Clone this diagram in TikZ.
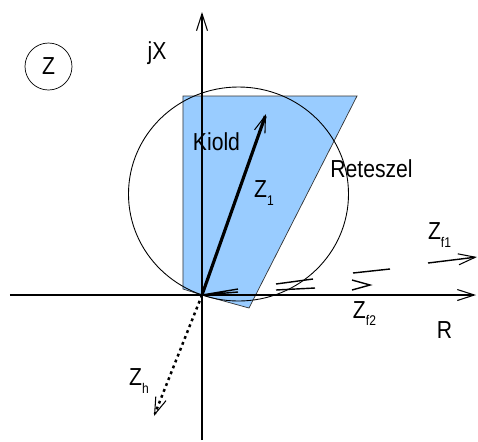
\documentclass[tikz,border=0pt]{standalone}
\usepackage{fontspec}
\setmainfont{Liberation Sans}[FakeStretch=0.86]
\usetikzlibrary{arrows.meta}
\definecolor{zoneblue}{RGB}{153,204,255}
\tikzset{
  vec/.style={-{Straight Barb[length=3.4mm,width=2.2mm,line width=0.6pt]}},
  lbl/.style={inner sep=0pt, font=\fontsize{14}{16}\selectfont},
  thin stroke/.style={line width=0.8pt}
}
\newcommand{\zsub}[1]{Z\raisebox{-4.5pt}{\fontsize{8}{9}\selectfont #1}}

\begin{document}
\begin{tikzpicture}
\useasboundingbox (-4.04,-2.92) rectangle (5.52,5.9);
\coordinate (O) at (0,0);
\fill[zoneblue, draw=black!80, line width=0.4pt] (-0.38,3.98) -- (3.1,3.98) -- (0.94,-0.26) -- (O) -- (-0.38,0.12) -- cycle;
\draw[line width=0.5pt] (0.73,2.02) ellipse [x radius=2.2, y radius=2.14];

\coordinate (ybot) at (0,-2.9);
\coordinate (ytop) at (0,5.66);
\coordinate (xleft) at (-3.84,0);
\coordinate (xright) at (5.48,0);
\draw[vec, thin stroke] (ybot) -- (ytop);
\draw[vec, thin stroke] (xleft) -- (xright);

\coordinate (z1) at (1.28,3.62);
\coordinate (zh) at (-0.96,-2.42);
\draw[vec, line width=1.8pt] (O) -- (z1);
\draw[vec, line width=1.4pt, dash pattern=on 1.6pt off 2pt] (O) -- (zh);

\draw[thin stroke] (O) -- (0.72,0.12) (O) -- (0.72,0.06);
\draw[thin stroke] (1.48,0.22) -- (2.22,0.32) (1.48,0.1) -- (2.26,0.14);
\draw[thin stroke] (3.0,0.3) -- (3.36,0.2) -- (3.0,0.1);
\draw[thin stroke] (3.02,0.44) -- (3.76,0.52);
\coordinate (zf1a) at (4.52,0.64);
\coordinate (zf1b) at (5.5,0.76);
\draw[vec, thin stroke] (zf1a) -- (zf1b);

\node[draw, circle, minimum size=0.94cm, lbl] (zcirc) at (-3.07,4.57) {Z};
\node[lbl] (jx) at (-0.9,4.84) {jX};
\node[lbl] (kiold) at (0.29,3.06) {Kiold};
\node[lbl] (retesz) at (3.39,2.52) {Reteszel};
\node[lbl] (zegy) at (1.24,2.04) {\zsub{1}};
\node[lbl] (zfegy) at (4.75,1.2) {\zsub{f1}};
\node[lbl] (zfket) at (3.25,-0.37) {\zsub{f2}};
\node[lbl] (zhlbl) at (-1.26,-1.72) {\zsub{h}};
\node[lbl] (rlbl) at (4.85,-0.7) {R};
\end{tikzpicture}
\end{document}
